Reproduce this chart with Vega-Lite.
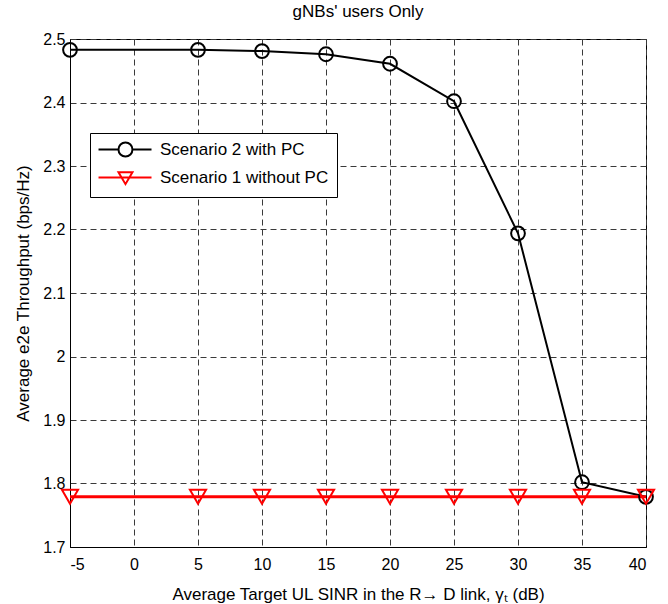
{
  "$schema": "https://vega.github.io/schema/vega-lite/v6.json",
  "width": 576,
  "height": 508,
  "autosize": "none",
  "padding": {"left": 70, "top": 39, "right": 22, "bottom": 57},
  "background": "white",
  "config": {
    "font": "Liberation Sans",
    "view": {"stroke": "black", "strokeWidth": 1},
    "axis": {
      "labelFont": "Liberation Sans",
      "titleFont": "Liberation Sans",
      "labelFontSize": 16,
      "titleFontSize": 17,
      "titleFontWeight": "normal",
      "labelColor": "black",
      "titleColor": "black",
      "domainColor": "black",
      "gridColor": "#3a3a3a",
      "gridDash": [6, 4],
      "gridOpacity": 1,
      "ticks": false
    }
  },
  "title": {
    "text": "gNBs' users Only",
    "fontSize": 17,
    "fontWeight": "normal",
    "font": "Liberation Sans",
    "color": "black",
    "offset": 10
  },
  "data": {
    "values": [
      {"x": -5, "y": 2.483, "series": "Scenario 2 with PC"},
      {"x": 5, "y": 2.483, "series": "Scenario 2 with PC"},
      {"x": 10, "y": 2.481, "series": "Scenario 2 with PC"},
      {"x": 15, "y": 2.476, "series": "Scenario 2 with PC"},
      {"x": 20, "y": 2.461, "series": "Scenario 2 with PC"},
      {"x": 25, "y": 2.402, "series": "Scenario 2 with PC"},
      {"x": 30, "y": 2.194, "series": "Scenario 2 with PC"},
      {"x": 35, "y": 1.802, "series": "Scenario 2 with PC"},
      {"x": 40, "y": 1.779, "series": "Scenario 2 with PC"},
      {"x": -5, "y": 1.779, "series": "Scenario 1 without PC"},
      {"x": 5, "y": 1.779, "series": "Scenario 1 without PC"},
      {"x": 10, "y": 1.779, "series": "Scenario 1 without PC"},
      {"x": 15, "y": 1.779, "series": "Scenario 1 without PC"},
      {"x": 20, "y": 1.779, "series": "Scenario 1 without PC"},
      {"x": 25, "y": 1.779, "series": "Scenario 1 without PC"},
      {"x": 30, "y": 1.779, "series": "Scenario 1 without PC"},
      {"x": 35, "y": 1.779, "series": "Scenario 1 without PC"},
      {"x": 40, "y": 1.779, "series": "Scenario 1 without PC"}
    ]
  },
  "encoding": {
    "x": {
      "field": "x",
      "type": "quantitative",
      "scale": {"domain": [-5, 40], "nice": false, "zero": false},
      "axis": {
        "values": [-5, 0, 5, 10, 15, 20, 25, 30, 35, 40],
        "labelExpr": "replace(datum.label, '\u2212', '-')",
        "title": "Average Target UL SINR in the R\u2192 D link, \u03b3\u209c (dB)",
        "labelPadding": 9,
        "titlePadding": 14
      }
    },
    "y": {
      "field": "y",
      "type": "quantitative",
      "scale": {"domain": [1.7, 2.5], "nice": false, "zero": false},
      "axis": {
        "values": [1.7, 1.8, 1.9, 2.0, 2.1, 2.2, 2.3, 2.4, 2.5],
        "format": ".1~f",
        "title": "Average e2e Throughput (bps/Hz)",
        "labelPadding": 5,
        "titlePadding": 10
      }
    }
  },
  "layer": [
    {
      "transform": [{"filter": "datum.series === 'Scenario 2 with PC'"}],
      "mark": {"type": "line", "color": "black", "strokeWidth": 2},
      "encoding": {}
    },
    {
      "transform": [{"filter": "datum.series === 'Scenario 1 without PC'"}],
      "mark": {"type": "line", "color": "#ff0000", "strokeWidth": 3},
      "encoding": {}
    },
    {
      "transform": [{"filter": "datum.series === 'Scenario 2 with PC'"}],
      "mark": {"type": "point", "shape": "circle", "filled": false, "strokeWidth": 2, "size": 190, "opacity": 1, "color": "black"},
      "encoding": {}
    },
    {
      "transform": [{"filter": "datum.series === 'Scenario 1 without PC'"}],
      "mark": {"type": "point", "shape": "triangle-down", "filled": false, "strokeWidth": 2, "size": 260, "opacity": 1, "color": "#ff0000"},
      "encoding": {}
    },
    {
      "mark": {"type": "point", "filled": false, "strokeWidth": 2, "size": 196, "strokeOpacity": 0},
      "encoding": {
        "color": {
          "field": "series",
          "type": "nominal",
          "sort": null,
          "scale": {"domain": ["Scenario 2 with PC", "Scenario 1 without PC"], "range": ["black", "#ff0000"]},
          "legend": {
            "title": null,
            "orient": "none",
            "legendX": 20,
            "legendY": 94,
            "direction": "vertical",
            "strokeColor": "black",
            "fillColor": "white",
            "padding": 8,
            "rowPadding": 7,
            "labelFontSize": 17,
            "labelFont": "Liberation Sans",
            "labelColor": "black",
            "labelLimit": 400,
            "labelOffset": 45,
            "symbolSize": 196,
            "symbolStrokeWidth": 2,
            "symbolOpacity": 1,
            "symbolFillColor": "transparent"
          }
        },
        "shape": {
          "field": "series",
          "type": "nominal",
          "sort": null,
          "scale": {
            "domain": ["Scenario 2 with PC", "Scenario 1 without PC"],
            "range": [
              "M-1.14,0L1.71,0M3.71,0L6.43,0M1.71,0A1,1 0 1,0 3.71,0A1,1 0 1,0 1.71,0",
              "M-1.14,0L6.43,0M1.71,-0.75L3.71,-0.75L2.71,0.95Z"
            ]
          },
          "legend": {
            "title": null,
            "orient": "none",
            "legendX": 20,
            "legendY": 94,
            "direction": "vertical",
            "strokeColor": "black",
            "fillColor": "white",
            "padding": 8,
            "rowPadding": 7,
            "labelFontSize": 17,
            "labelFont": "Liberation Sans",
            "labelColor": "black",
            "labelLimit": 400,
            "labelOffset": 45,
            "symbolSize": 196,
            "symbolStrokeWidth": 2,
            "symbolOpacity": 1,
            "symbolFillColor": "transparent"
          }
        }
      }
    }
  ]
}
